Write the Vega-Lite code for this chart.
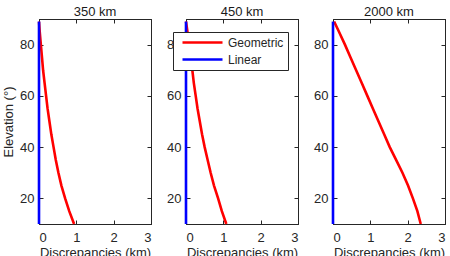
{
  "$schema": "https://vega.github.io/schema/vega-lite/v6.json",
  "padding": {"left": 2, "top": 5, "right": 4, "bottom": 0},
  "background": "white",
  "config": {
    "font": "Liberation Sans",
    "view": {"stroke": "#262626", "strokeWidth": 1},
    "axis": {
      "grid": false,
      "domainColor": "#262626",
      "tickColor": "#262626",
      "labelColor": "#262626",
      "titleColor": "#262626",
      "labelFontSize": 13,
      "titleFontSize": 13,
      "titleFontWeight": "normal",
      "tickSize": -4,
      "labelPadding": 9
    },
    "axisBottom": {"labelPadding": 11, "titlePadding": 2},
    "title": {"fontSize": 13, "fontWeight": "normal", "color": "#1a1a1a", "offset": -3},
    "concat": {"spacing": 14}
  },
  "datasets": {
    "disc": [
      {"alt": "350 km", "method": "Geometric", "elev": 10, "km": 0.94},
      {"alt": "350 km", "method": "Geometric", "elev": 15, "km": 0.81},
      {"alt": "350 km", "method": "Geometric", "elev": 20, "km": 0.70},
      {"alt": "350 km", "method": "Geometric", "elev": 25, "km": 0.60},
      {"alt": "350 km", "method": "Geometric", "elev": 30, "km": 0.52},
      {"alt": "350 km", "method": "Geometric", "elev": 35, "km": 0.45},
      {"alt": "350 km", "method": "Geometric", "elev": 40, "km": 0.39},
      {"alt": "350 km", "method": "Geometric", "elev": 45, "km": 0.33},
      {"alt": "350 km", "method": "Geometric", "elev": 50, "km": 0.28},
      {"alt": "350 km", "method": "Geometric", "elev": 55, "km": 0.23},
      {"alt": "350 km", "method": "Geometric", "elev": 60, "km": 0.19},
      {"alt": "350 km", "method": "Geometric", "elev": 65, "km": 0.15},
      {"alt": "350 km", "method": "Geometric", "elev": 70, "km": 0.11},
      {"alt": "350 km", "method": "Geometric", "elev": 75, "km": 0.08},
      {"alt": "350 km", "method": "Geometric", "elev": 80, "km": 0.05},
      {"alt": "350 km", "method": "Geometric", "elev": 85, "km": 0.02},
      {"alt": "350 km", "method": "Geometric", "elev": 89, "km": 0.0},
      {"alt": "350 km", "method": "Linear", "elev": 10, "km": 0},
      {"alt": "350 km", "method": "Linear", "elev": 89, "km": 0},
      {"alt": "450 km", "method": "Geometric", "elev": 10, "km": 1.08},
      {"alt": "450 km", "method": "Geometric", "elev": 15, "km": 0.96},
      {"alt": "450 km", "method": "Geometric", "elev": 20, "km": 0.86},
      {"alt": "450 km", "method": "Geometric", "elev": 25, "km": 0.75},
      {"alt": "450 km", "method": "Geometric", "elev": 30, "km": 0.66},
      {"alt": "450 km", "method": "Geometric", "elev": 35, "km": 0.58},
      {"alt": "450 km", "method": "Geometric", "elev": 40, "km": 0.50},
      {"alt": "450 km", "method": "Geometric", "elev": 45, "km": 0.43},
      {"alt": "450 km", "method": "Geometric", "elev": 50, "km": 0.37},
      {"alt": "450 km", "method": "Geometric", "elev": 55, "km": 0.31},
      {"alt": "450 km", "method": "Geometric", "elev": 60, "km": 0.26},
      {"alt": "450 km", "method": "Geometric", "elev": 65, "km": 0.21},
      {"alt": "450 km", "method": "Geometric", "elev": 70, "km": 0.17},
      {"alt": "450 km", "method": "Geometric", "elev": 75, "km": 0.12},
      {"alt": "450 km", "method": "Geometric", "elev": 80, "km": 0.08},
      {"alt": "450 km", "method": "Geometric", "elev": 85, "km": 0.04},
      {"alt": "450 km", "method": "Geometric", "elev": 89, "km": 0.0},
      {"alt": "450 km", "method": "Linear", "elev": 10, "km": 0},
      {"alt": "450 km", "method": "Linear", "elev": 89, "km": 0},
      {"alt": "2000 km", "method": "Geometric", "elev": 10, "km": 2.35},
      {"alt": "2000 km", "method": "Geometric", "elev": 15, "km": 2.26},
      {"alt": "2000 km", "method": "Geometric", "elev": 20, "km": 2.14},
      {"alt": "2000 km", "method": "Geometric", "elev": 25, "km": 2.01},
      {"alt": "2000 km", "method": "Geometric", "elev": 30, "km": 1.86},
      {"alt": "2000 km", "method": "Geometric", "elev": 35, "km": 1.69},
      {"alt": "2000 km", "method": "Geometric", "elev": 40, "km": 1.52},
      {"alt": "2000 km", "method": "Geometric", "elev": 45, "km": 1.37},
      {"alt": "2000 km", "method": "Geometric", "elev": 50, "km": 1.22},
      {"alt": "2000 km", "method": "Geometric", "elev": 55, "km": 1.07},
      {"alt": "2000 km", "method": "Geometric", "elev": 60, "km": 0.92},
      {"alt": "2000 km", "method": "Geometric", "elev": 65, "km": 0.77},
      {"alt": "2000 km", "method": "Geometric", "elev": 70, "km": 0.62},
      {"alt": "2000 km", "method": "Geometric", "elev": 75, "km": 0.47},
      {"alt": "2000 km", "method": "Geometric", "elev": 80, "km": 0.32},
      {"alt": "2000 km", "method": "Geometric", "elev": 85, "km": 0.16},
      {"alt": "2000 km", "method": "Geometric", "elev": 89, "km": 0.03},
      {"alt": "2000 km", "method": "Linear", "elev": 10, "km": 0},
      {"alt": "2000 km", "method": "Linear", "elev": 89, "km": 0}
    ]
  },
  "data": {"name": "disc"},
  "resolve": {"legend": {"color": "independent"}},
  "hconcat": [
    {
      "width": 112, "height": 205,
      "title": {"text": "350 km", "fontWeight": "normal"},
      "transform": [{"filter": "datum.alt == '350 km'"}],
      "layer": [
        {
          "mark": {"type": "line", "strokeWidth": 2.6, "clip": false},
          "encoding": {
            "x": {"field": "km", "type": "quantitative", "scale": {"domain": [0, 3], "nice": false}, "axis": {"values": [0, 1, 2, 3], "title": "Discrepancies (km)"}},
            "y": {"field": "elev", "type": "quantitative", "scale": {"domain": [10, 90], "nice": false, "zero": false}, "axis": {"values": [20, 40, 60, 80], "title": "Elevation (°)", "titlePadding": 4}},
            "color": {"field": "method", "type": "nominal", "scale": {"domain": ["Geometric", "Linear"], "range": ["#ff0000", "#0000ff"]}, "legend": null},
            "order": {"field": "elev", "type": "quantitative"}
          }
        },
        {
          "mark": {"type": "line", "opacity": 0},
          "encoding": {
            "x": {"field": "km", "type": "quantitative", "scale": {"domain": [0, 3], "nice": false}, "axis": {"orient": "top", "values": [0, 1, 2, 3], "labels": false, "title": null}},
            "y": {"field": "elev", "type": "quantitative", "scale": {"domain": [10, 90], "nice": false, "zero": false}, "axis": {"orient": "right", "values": [20, 40, 60, 80], "labels": false, "title": null}}
          }
        }
      ],
      "resolve": {"axis": {"x": "independent", "y": "independent"}}
    },
    {
      "width": 112, "height": 205,
      "title": {"text": "450 km", "fontWeight": "normal"},
      "transform": [{"filter": "datum.alt == '450 km'"}],
      "layer": [
        {
          "mark": {"type": "line", "strokeWidth": 2.6, "clip": false},
          "encoding": {
            "x": {"field": "km", "type": "quantitative", "scale": {"domain": [0, 3], "nice": false}, "axis": {"values": [0, 1, 2, 3], "title": "Discrepancies (km)"}},
            "y": {"field": "elev", "type": "quantitative", "scale": {"domain": [10, 90], "nice": false, "zero": false}, "axis": {"values": [20, 40, 60, 80], "title": null}},
            "color": {
              "field": "method", "type": "nominal",
              "scale": {"domain": ["Geometric", "Linear"], "range": ["#ff0000", "#0000ff"]},
              "legend": {
                "title": null, "orient": "none", "legendX": -13, "legendY": 13,
                "symbolType": "M-0.2,0H7.8", "symbolSize": 100, "symbolStrokeWidth": 2.6,
                "labelFontSize": 12, "labelColor": "#262626", "labelOffset": 38,
                "fillColor": "white", "strokeColor": "#262626", "padding": 4,
                "rowPadding": 4
              }
            },
            "order": {"field": "elev", "type": "quantitative"}
          }
        },
        {
          "mark": {"type": "line", "opacity": 0},
          "encoding": {
            "x": {"field": "km", "type": "quantitative", "scale": {"domain": [0, 3], "nice": false}, "axis": {"orient": "top", "values": [0, 1, 2, 3], "labels": false, "title": null}},
            "y": {"field": "elev", "type": "quantitative", "scale": {"domain": [10, 90], "nice": false, "zero": false}, "axis": {"orient": "right", "values": [20, 40, 60, 80], "labels": false, "title": null}}
          }
        }
      ],
      "resolve": {"axis": {"x": "independent", "y": "independent"}}
    },
    {
      "width": 112, "height": 205,
      "title": {"text": "2000 km", "fontWeight": "normal"},
      "transform": [{"filter": "datum.alt == '2000 km'"}],
      "layer": [
        {
          "mark": {"type": "line", "strokeWidth": 2.6, "clip": false},
          "encoding": {
            "x": {"field": "km", "type": "quantitative", "scale": {"domain": [0, 3], "nice": false}, "axis": {"values": [0, 1, 2, 3], "title": "Discrepancies (km)"}},
            "y": {"field": "elev", "type": "quantitative", "scale": {"domain": [10, 90], "nice": false, "zero": false}, "axis": {"values": [20, 40, 60, 80], "title": null}},
            "color": {"field": "method", "type": "nominal", "scale": {"domain": ["Geometric", "Linear"], "range": ["#ff0000", "#0000ff"]}, "legend": null},
            "order": {"field": "elev", "type": "quantitative"}
          }
        },
        {
          "mark": {"type": "line", "opacity": 0},
          "encoding": {
            "x": {"field": "km", "type": "quantitative", "scale": {"domain": [0, 3], "nice": false}, "axis": {"orient": "top", "values": [0, 1, 2, 3], "labels": false, "title": null}},
            "y": {"field": "elev", "type": "quantitative", "scale": {"domain": [10, 90], "nice": false, "zero": false}, "axis": {"orient": "right", "values": [20, 40, 60, 80], "labels": false, "title": null}}
          }
        }
      ],
      "resolve": {"axis": {"x": "independent", "y": "independent"}}
    }
  ]
}
